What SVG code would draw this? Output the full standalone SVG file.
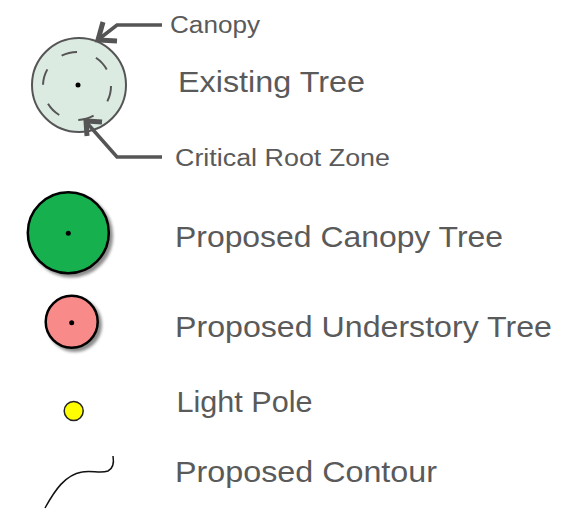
<svg xmlns="http://www.w3.org/2000/svg" width="585" height="511" viewBox="0 0 585 511">
<defs>
<style>
.lbl{font-family:"Liberation Sans",Arial,sans-serif;fill:#5a5a5a;font-size:30px}
.sm{font-size:23px}
.ar{fill:none;stroke:#555;stroke-width:3.5;stroke-linejoin:miter}
.ah{fill:none;stroke:#555;stroke-width:5;stroke-linecap:butt;stroke-linejoin:miter}
.dot{fill:#000}
</style>
<filter id="sh" x="-20%" y="-20%" width="150%" height="150%">
<feDropShadow dx="3" dy="3" stdDeviation="1.5" flood-color="#000" flood-opacity="0.45"/>
</filter>
</defs>
<rect width="585" height="511" fill="#fff"/>

<g id="existing-tree">
<circle cx="79" cy="85" r="47" fill="#dcebe2" stroke="#555" stroke-width="2"/>
<circle cx="77" cy="86" r="34" fill="none" stroke="#555" stroke-width="2" stroke-dasharray="16 20"/>
<circle class="dot" cx="78" cy="85" r="2.5"/>
<text class="lbl" x="178" y="91.7" textLength="187" lengthAdjust="spacingAndGlyphs">Existing Tree</text>
</g>

<g id="canopy-label">
<text class="lbl sm" x="170" y="33" textLength="90" lengthAdjust="spacingAndGlyphs">Canopy</text>
</g>
<g id="root-zone-label">
<text class="lbl sm" x="175" y="166" textLength="215" lengthAdjust="spacingAndGlyphs">Critical Root Zone</text>
</g>

<g id="connectors">
<path class="ar" d="M162,25 H117 L99,39"/>
<path class="ah" d="M103,22 L98,40 L117,41"/>
<path class="ar" d="M162,157 H117 L87,123"/>
<path class="ah" d="M87,136 L86,121 L102,122"/>
</g>

<g id="proposed-canopy-tree">
<circle cx="68.3" cy="232.7" r="40.5" fill="#17b04f" stroke="#000" stroke-width="2.5" filter="url(#sh)"/>
<circle class="dot" cx="68.3" cy="233.3" r="2.5"/>
<text class="lbl" x="175" y="246.7" textLength="328" lengthAdjust="spacingAndGlyphs">Proposed Canopy Tree</text>
</g>

<g id="proposed-understory-tree">
<circle cx="71.7" cy="321.7" r="26" fill="#f88a8a" stroke="#000" stroke-width="2.5" filter="url(#sh)"/>
<circle class="dot" cx="71.7" cy="322.7" r="2.5"/>
<text class="lbl" x="175" y="336.7" textLength="377" lengthAdjust="spacingAndGlyphs">Proposed Understory Tree</text>
</g>

<g id="light-pole">
<circle cx="73.7" cy="411" r="9.5" fill="#ffff00" stroke="#222" stroke-width="1.5"/>
<text class="lbl" x="176.5" y="411.7" textLength="136" lengthAdjust="spacingAndGlyphs">Light Pole</text>
</g>

<g id="proposed-contour">
<path d="M45,508 C55,490 65,475 82,472 C92,470 100,474 108,471 C114,468 114,462 113,456" fill="none" stroke="#111" stroke-width="1.5"/>
<text class="lbl" x="175" y="481.7" textLength="262" lengthAdjust="spacingAndGlyphs">Proposed Contour</text>
</g>
</svg>
